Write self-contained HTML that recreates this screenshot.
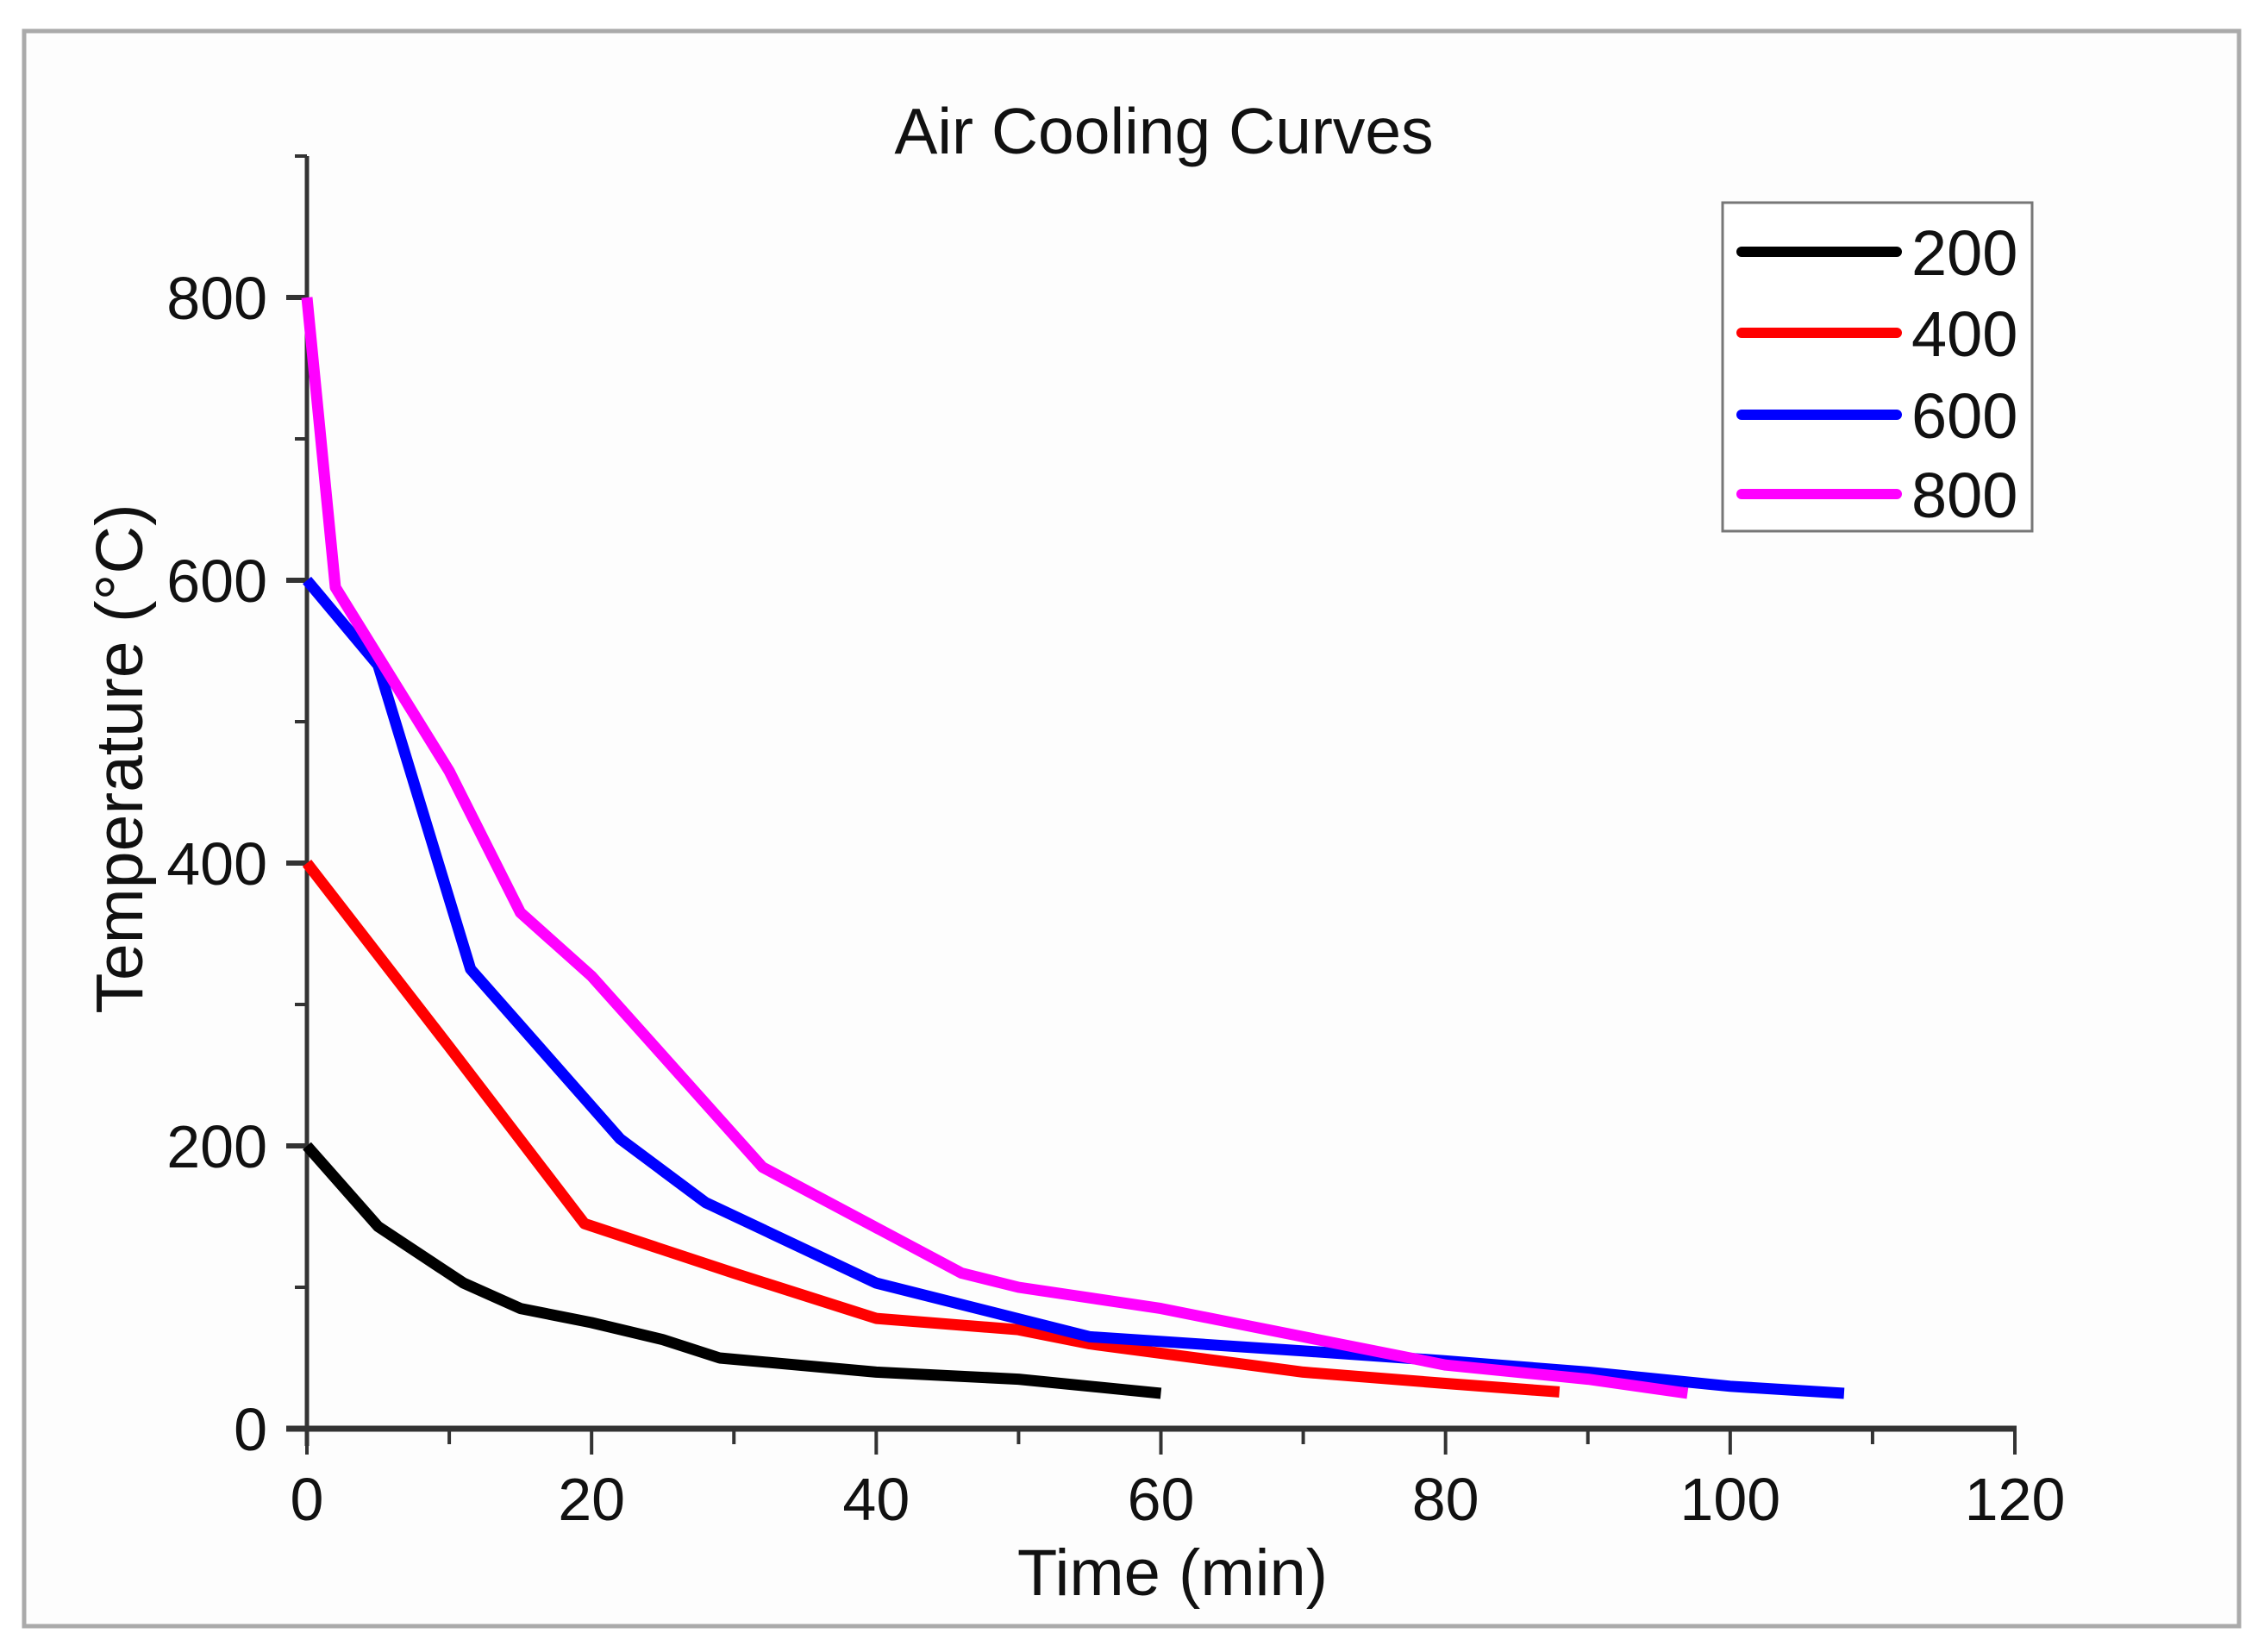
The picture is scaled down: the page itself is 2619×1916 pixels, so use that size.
<!DOCTYPE html>
<html><head><meta charset="utf-8"><style>
html,body{margin:0;padding:0;background:#fff;}
svg{display:block;font-family:"Liberation Sans",Arial,sans-serif;}
</style></head><body>
<svg id="chart" width="2619" height="1916" viewBox="0 0 2619 1916" xmlns="http://www.w3.org/2000/svg">
<rect x="0" y="0" width="2619" height="1916" fill="#fff"/>
<rect x="28" y="36" width="2569" height="1850" fill="#fdfdfd" stroke="#aaa" stroke-width="5"/>
<text x="1350" y="178" font-size="75" text-anchor="middle" fill="#111">Air Cooling Curves</text>
<g id="axes"></g>
<g id="series"></g>
<text x="1360" y="1850" font-size="76" text-anchor="middle" fill="#111">Time (min)</text>
<text x="0" y="0" font-size="77" text-anchor="middle" fill="#111" transform="translate(165,880) rotate(-90)">Temperature (°C)</text>
<g>
<rect x="1998" y="235" width="359" height="381" fill="#fff" stroke="#777" stroke-width="3"/>
<g id="legend-entries"></g>
</g>
</svg>
<script>
const seriesNames = ["200","400","600","800"];
const seriesColors = ["#000000","#ff0000","#0000ff","#ff00ff"];
const xTime200 = [0,5,11,15,20,25,29,40,50,60];
const yTemp200 = [200,143,103,85,75,63,50,40,35,25];
const xTime400 = [0,10,19.5,30,40,50,55,70,80,88];
const yTemp400 = [400,270,145,110,78,70,60,40,32,26];
const xTime600 = [0,5,11.5,22,28,40,55,70,80,90,100,108];
const yTemp600 = [600,540,325,205,160,103,65,55,48,40,30,25];
const xTime800 = [0,2,10,15,20,32,46,50,60,70,80,90,97];
const yTemp800 = [800,595,465,365,320,185,110,100,85,65,45,35,25];
const xTicks = [0,20,40,60,80,100,120];
const yTicks = [0,200,400,600,800];

const NS = "http://www.w3.org/2000/svg";
const X0 = 356, X1 = 2337, XMAX = 120;
const Y0 = 1657, YPX200 = 328;
function sx(v){ return X0 + (X1 - X0) * v / XMAX; }
function sy(v){ return Y0 - YPX200 * v / 200; }
function mk(tag, attrs, parent){
  const e = document.createElementNS(NS, tag);
  for (const k in attrs) e.setAttribute(k, attrs[k]);
  parent.appendChild(e); return e;
}
const axes = document.getElementById("axes");
let l = mk("line",{x1:X0,y1:sy(900),x2:X0,y2:Y0+20,stroke:"#333","stroke-width":5},axes);


l = mk("line",{x1:X0-24,y1:Y0,x2:X1+2,y2:Y0,stroke:"#333","stroke-width":7},axes);


for (let v = 0; v <= 900; v += 100) {
  const major = yTicks.indexOf(v) >= 0;
  const t = mk("line",{x1:X0-(major?24:14),y1:sy(v),x2:X0,y2:sy(v),stroke:"#333","stroke-width":major?6:4},axes);
  
  
}
yTicks.forEach(v => {
  const t = mk("text",{x:310,y:sy(v)+25,"font-size":70,"text-anchor":"end",fill:"#111"},axes);
  t.textContent = v;
  
  
});
for (let v = 0; v <= 120; v += 10) {
  const major = xTicks.indexOf(v) >= 0;
  const t = mk("line",{x1:sx(v),y1:Y0,x2:sx(v),y2:Y0+(major?30:18),stroke:"#333","stroke-width":4},axes);
  
  
}
xTicks.forEach(v => {
  const t = mk("text",{x:sx(v),y:1763,"font-size":70,"text-anchor":"middle",fill:"#111"},axes);
  t.textContent = v;
  
  
});
const sg = document.getElementById("series");
const xs = [xTime200,xTime400,xTime600,xTime800];
const ys = [yTemp200,yTemp400,yTemp600,yTemp800];
for (let i = 0; i < 4; i++) {
  const pts = xs[i].map((x,j) => sx(x).toFixed(1)+","+sy(ys[i][j]).toFixed(1)).join(" ");
  const p = mk("polyline",{points:pts,fill:"none",stroke:seriesColors[i],"stroke-width":13,"stroke-linejoin":"round","stroke-linecap":"butt"},sg);
  
  
}
const lg = document.getElementById("legend-entries");
const legendY = [292,386,481,573];
for (let i = 0; i < 4; i++) {
  const ln = mk("line",{x1:2020,y1:legendY[i],x2:2200,y2:legendY[i],stroke:seriesColors[i],"stroke-width":12,"stroke-linecap":"round"},lg);
  
  
  const tx = mk("text",{x:2217,y:legendY[i]+27,"font-size":74,fill:"#111"},lg);
  tx.textContent = seriesNames[i];
  
  
}
</script>
</body></html>
